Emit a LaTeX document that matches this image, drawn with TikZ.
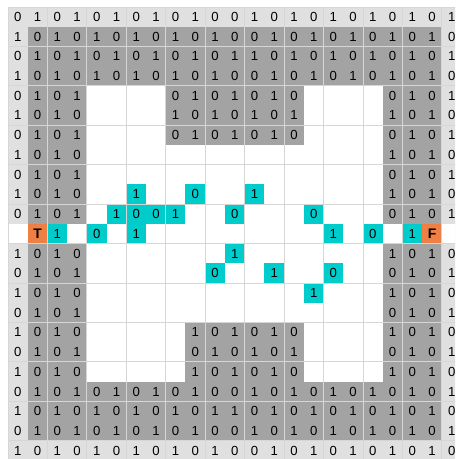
\documentclass[tikz,border=0pt]{standalone}
\usepackage{fontspec}
\setmainfont{Liberation Sans}
\definecolor{edgegray}{HTML}{E0E0E0}
\definecolor{wallgray}{HTML}{A3A3A3}
\definecolor{linegray}{HTML}{D6D6D6}
\definecolor{pathcyan}{HTML}{00CCCC}
\definecolor{endorange}{HTML}{EE7F45}
\tikzset{
  cell/.style={minimum size=0.5cm, inner sep=0pt, outer sep=0pt},
  digit/.style={cell, font=\fontsize{9.5}{9.5}\selectfont},
  pathcell/.style={digit, fill=pathcyan},
  endcell/.style={cell, fill=endorange, font=\fontsize{10}{10}\selectfont\bfseries},
  gridline/.style={draw=linegray, line width=0.7pt},
}
% one run of digits in a row: row, first column, digits
\newcommand{\digitrun}[3]{%
  \foreach \bit [count=\col from #2] in {#3}
    \node[digit] (d-#1-\col) at (\col+0.5,#1+0.5) {\bit};
}

\begin{document}
\begin{tikzpicture}[x=0.5cm, y=-0.5cm]
  \clip (-0.406,-0.355) rectangle (22.67,22.92);

  % walls and open floor
  \fill[edgegray] (0,0) rectangle (23,23);
  \fill[wallgray] (1,1) rectangle (22,22);
  \fill[white] (4,4) rectangle (19,19);
  \fill[white] (0,11) rectangle (23,12);
  \fill[wallgray] (8,4) rectangle (15,7);
  \fill[wallgray] (9,16) rectangle (15,19);

  % path cells
  \node[pathcell] (c-9-6)   at (6.5,9.5)   {1};
  \node[pathcell] (c-9-9)   at (9.5,9.5)   {0};
  \node[pathcell] (c-9-12)  at (12.5,9.5)  {1};
  \node[pathcell] (c-10-5)  at (5.5,10.5)  {1};
  \node[pathcell] (c-10-6)  at (6.5,10.5)  {0};
  \node[pathcell] (c-10-7)  at (7.5,10.5)  {0};
  \node[pathcell] (c-10-8)  at (8.5,10.5)  {1};
  \node[pathcell] (c-10-11) at (11.5,10.5) {0};
  \node[pathcell] (c-10-15) at (15.5,10.5) {0};
  \node[pathcell] (c-11-2)  at (2.5,11.5)  {1};
  \node[pathcell] (c-11-4)  at (4.5,11.5)  {0};
  \node[pathcell] (c-11-6)  at (6.5,11.5)  {1};
  \node[pathcell] (c-11-16) at (16.5,11.5) {1};
  \node[pathcell] (c-11-18) at (18.5,11.5) {0};
  \node[pathcell] (c-11-20) at (20.5,11.5) {1};
  \node[pathcell] (c-12-11) at (11.5,12.5) {1};
  \node[pathcell] (c-13-10) at (10.5,13.5) {0};
  \node[pathcell] (c-13-13) at (13.5,13.5) {1};
  \node[pathcell] (c-13-16) at (16.5,13.5) {0};
  \node[pathcell] (c-14-15) at (15.5,14.5) {1};
  \node[endcell]  (start)   at (1.5,11.5)  {T};
  \node[endcell]  (finish)  at (21.5,11.5) {F};

  \draw[gridline] (0,0) grid (23,23);

  % digits
  \digitrun{0}{0}{0,1,0,1,0,1,0,1,0,1,0,0,1,0,1,0,1,0,1,0,1,0,1}
  \digitrun{1}{0}{1,0,1,0,1,0,1,0,1,0,1,0,0,1,0,1,0,1,0,1,0,1,0}
  \digitrun{2}{0}{0,1,0,1,0,1,0,1,0,1,0,1,1,0,1,0,1,0,1,0,1,0,1}
  \digitrun{3}{0}{1,0,1,0,1,0,1,0,1,0,1,0,0,1,0,1,0,1,0,1,0,1,0}
  \digitrun{4}{0}{0,1,0,1}  \digitrun{4}{8}{0,1,0,1,0,1,0}  \digitrun{4}{19}{0,1,0,1}
  \digitrun{5}{0}{1,0,1,0}  \digitrun{5}{8}{1,0,1,0,1,0,1}  \digitrun{5}{19}{1,0,1,0}
  \digitrun{6}{0}{0,1,0,1}  \digitrun{6}{8}{0,1,0,1,0,1,0}  \digitrun{6}{19}{0,1,0,1}
  \digitrun{7}{0}{1,0,1,0}  \digitrun{7}{19}{1,0,1,0}
  \digitrun{8}{0}{0,1,0,1}  \digitrun{8}{19}{0,1,0,1}
  \digitrun{9}{0}{1,0,1,0}  \digitrun{9}{19}{1,0,1,0}
  \digitrun{10}{0}{0,1,0,1} \digitrun{10}{19}{0,1,0,1}
  \digitrun{12}{0}{1,0,1,0} \digitrun{12}{19}{1,0,1,0}
  \digitrun{13}{0}{0,1,0,1} \digitrun{13}{19}{0,1,0,1}
  \digitrun{14}{0}{1,0,1,0} \digitrun{14}{19}{1,0,1,0}
  \digitrun{15}{0}{0,1,0,1} \digitrun{15}{19}{0,1,0,1}
  \digitrun{16}{0}{1,0,1,0} \digitrun{16}{9}{1,0,1,0,1,0} \digitrun{16}{19}{1,0,1,0}
  \digitrun{17}{0}{0,1,0,1} \digitrun{17}{9}{0,1,0,1,0,1} \digitrun{17}{19}{0,1,0,1}
  \digitrun{18}{0}{1,0,1,0} \digitrun{18}{9}{1,0,1,0,1,0} \digitrun{18}{19}{1,0,1,0}
  \digitrun{19}{0}{0,1,0,1,0,1,0,1,0,1,0,0,1,0,1,0,1,0,1,0,1,0,1}
  \digitrun{20}{0}{1,0,1,0,1,0,1,0,1,0,1,1,0,1,0,1,0,1,0,1,0,1,0}
  \digitrun{21}{0}{0,1,0,1,0,1,0,1,0,1,0,0,1,0,1,0,1,0,1,0,1,0,1}
  \digitrun{22}{0}{1,0,1,0,1,0,1,0,1,0,1,0,0,1,0,1,0,1,0,1,0,1,0}
\end{tikzpicture}
\end{document}
